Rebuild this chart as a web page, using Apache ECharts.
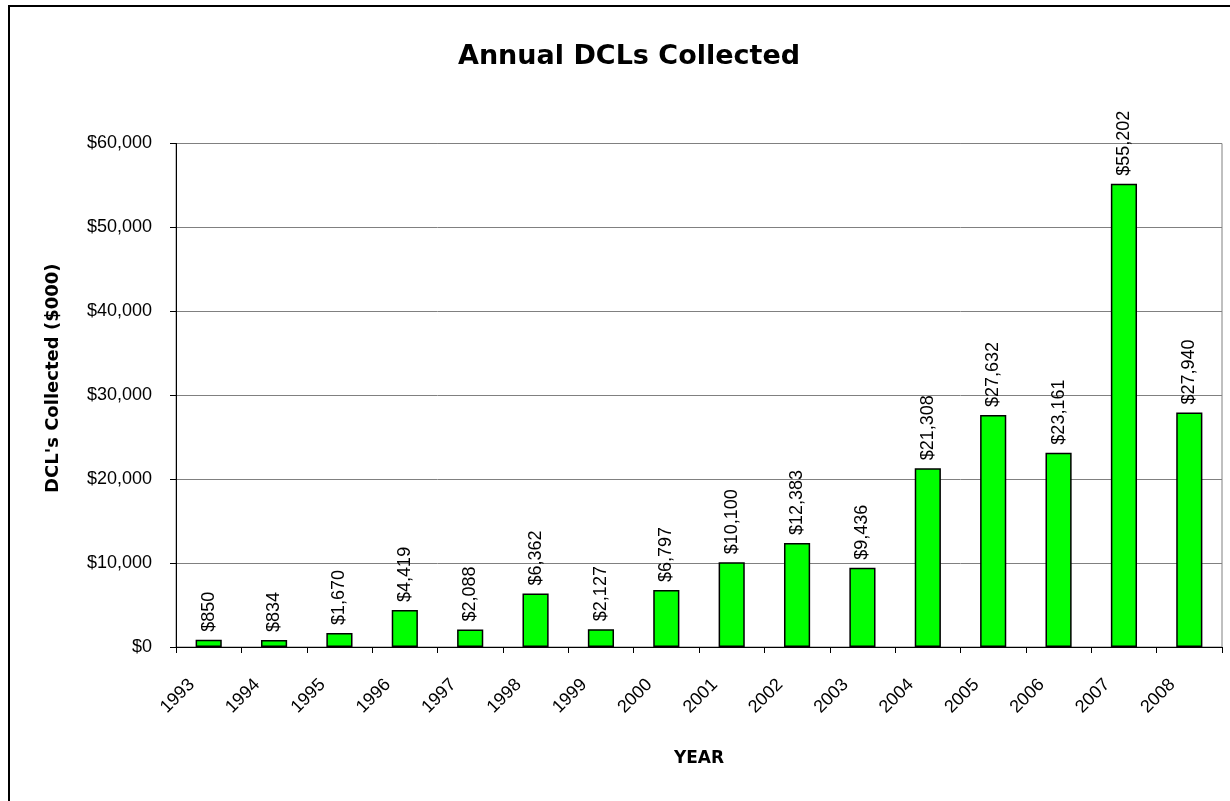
<!DOCTYPE html>
<html><head><meta charset="utf-8">
<script src="https://cdn.jsdelivr.net/npm/echarts@6/dist/echarts.min.js"></script>
<style>html,body{margin:0;padding:0;background:#fff}#c{width:1230px;height:801px}</style>
</head><body><div id="c"></div>
<script>
const years = ['1993','1994','1995','1996','1997','1998','1999','2000','2001','2002','2003','2004','2005','2006','2007','2008'];
const collected = [850,834,1670,4419,2088,6362,2127,6797,10100,12383,9436,21308,27632,23161,55202,27940];
const yTicks = [0,10000,20000,30000,40000,50000,60000];
const FONT = '"DejaVu Sans", "Noto Sans", sans-serif';
const SFONT = '"Liberation Sans", Arial, sans-serif';
function money(v){ return '$' + Number(v).toLocaleString('en-US'); }
const chart = echarts.init(document.getElementById('c'), null, {renderer:'canvas'});
chart.setOption({
  animation:false,
  backgroundColor:'#fff',
  graphic:[{type:'rect', shape:{x:9, y:6, width:1240, height:820}, style:{fill:'none', stroke:'#000', lineWidth:2}, silent:true, z:-1}],
  title:{text:'Annual DCLs Collected', left:453, top:38, textStyle:{fontFamily:FONT, fontSize:27, fontWeight:'bold', color:'#000'}},
  grid:{left:176, right:8, top:143.5, bottom:154, show:true, borderColor:'#808080', borderWidth:1, backgroundColor:'transparent'},
  xAxis:{type:'category', data:years, name:'YEAR', nameLocation:'middle', nameGap:103,
    nameTextStyle:{fontFamily:FONT, fontSize:17, fontWeight:'bold', color:'#000'},
    axisLine:{lineStyle:{color:'#000', width:1}},
    axisTick:{show:true, alignWithLabel:false, length:6, lineStyle:{color:'#000'}},
    axisLabel:{rotate:45, fontFamily:SFONT, fontSize:18, color:'#000', margin:18, padding:[0,24,0,0], interval:0}},
  yAxis:{type:'value', min:0, max:60000, interval:10000, name:"DCL's Collected ($000)", nameLocation:'middle', nameGap:114,
    nameTextStyle:{fontFamily:FONT, fontSize:18, fontWeight:'bold', color:'#000', padding:[0,0,0,34]},
    axisLine:{show:true, lineStyle:{color:'#000'}},
    axisTick:{show:true, length:6, lineStyle:{color:'#000'}},
    axisLabel:{fontFamily:SFONT, fontSize:18, color:'#000', margin:24, formatter:v=>yTicks.includes(v)?money(v):''},
    splitLine:{show:true, lineStyle:{color:'#808080', width:1}}},
  series:[{type:'bar', data:collected, barWidth:'40%',
    itemStyle:{color:'#00FF00', borderColor:'#000', borderWidth:1.5},
    label:{show:true, position:'top', rotate:90, align:'left', verticalAlign:'middle', distance:8,
      fontFamily:SFONT, fontSize:18, color:'#000', formatter:p=>money(p.value)}}]
});
</script></body></html>
